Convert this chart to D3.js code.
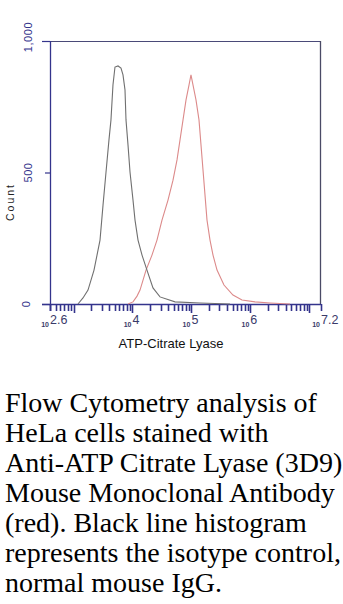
<!DOCTYPE html>
<html>
<head>
<meta charset="utf-8">
<script src="https://cdn.jsdelivr.net/npm/d3@7"></script>
<style>
  body { margin: 0; background: #fff; }
  svg { display: block; }
</style>
</head>
<body>
<svg width="343" height="604"></svg>
<script>
// ---------------------------------------------------------
// Data (log10 fluorescence, counts)
const isoLogFl = [3.075, 3.160, 3.245, 3.347, 3.398, 3.449, 3.500, 3.551, 3.601, 3.635, 3.669,
  3.703, 3.754, 3.805, 3.839, 3.873, 3.890, 3.924, 3.958, 4.009, 4.043, 4.094, 4.162, 4.246,
  4.348, 4.467, 4.722, 5.146, 5.655];
const isoCount = [0, 23, 53, 129, 186, 243, 376, 502, 624, 700, 833,
  901, 905, 897, 871, 814, 700, 605, 502, 395, 319, 243, 186, 129,
  61, 27, 8, 4, 0];

const aclyLogFl = [3.924, 4.009, 4.077, 4.128, 4.230, 4.331, 4.416, 4.501, 4.603, 4.688, 4.756,
  4.807, 4.858, 4.909, 4.960, 4.993, 5.027, 5.078, 5.129, 5.197, 5.265, 5.316, 5.367, 5.435,
  5.553, 5.706, 5.859, 6.080, 6.334, 6.674];
const aclyCount = [0, 8, 30, 53, 129, 186, 243, 319, 395, 471, 548,
  624, 700, 776, 833, 871, 833, 776, 700, 510, 319, 243, 186, 129,
  72, 34, 15, 8, 4, 0];

const xLabelExps = ['2.6', '4', '5', '6', '7.2'];
const yTicks = [0, 500, 1000];
const yTickLabels = ['0', '500', '1,000'];
const captionLines = [
  'Flow Cytometry analysis of',
  'HeLa cells stained with',
  'Anti-ATP Citrate Lyase (3D9)',
  'Mouse Monoclonal Antibody',
  '(red). Black line histogram',
  'represents the isotype control,',
  'normal mouse IgG.'
];

// ---------------------------------------------------------
// Layout
const plot = { left: 50, right: 321, top: 41, bottom: 304 };
const axisBlue = '#34348c';
const sans = "'Liberation Sans', Arial, sans-serif";

const svg = d3.select('svg');

const x = d3.scaleLog()
  .domain([Math.pow(10, 2.6), Math.pow(10, 7.2)])
  .range([plot.left, plot.right]);
const y = d3.scaleLinear()
  .domain([0, 1000])
  .range([plot.bottom, plot.top]);

// ---------------------------------------------------------
// Frame
svg.append('line')
  .attr('x1', plot.left).attr('x2', plot.right)
  .attr('y1', plot.top + 0.5).attr('y2', plot.top + 0.5)
  .attr('stroke', '#4a4a78').attr('stroke-width', 1.2);
svg.append('line')
  .attr('x1', plot.right - 0.5).attr('x2', plot.right - 0.5)
  .attr('y1', plot.top).attr('y2', plot.bottom)
  .attr('stroke', '#4a4a66').attr('stroke-width', 1.3);
svg.append('line')
  .attr('x1', plot.left + 0.5).attr('x2', plot.left + 0.5)
  .attr('y1', plot.top).attr('y2', plot.bottom)
  .attr('stroke', axisBlue).attr('stroke-width', 1.3);

// ---------------------------------------------------------
// Y axis
const yAxis = svg.append('g').attr('id', 'y-axis');
yAxis.selectAll('line.ytick')
  .data(yTicks)
  .enter()
  .append('line')
  .attr('class', 'ytick')
  .attr('x1', (d) => (d === 500 ? 45 : 42))
  .attr('x2', plot.left)
  .attr('y1', (d) => y(d) + 0.5)
  .attr('y2', (d) => y(d) + 0.5)
  .attr('stroke', axisBlue)
  .attr('stroke-width', 1.2);
yAxis.selectAll('text')
  .data(yTicks)
  .enter()
  .append('text')
  .attr('transform', (d) => `translate(${d === 0 ? 30 : 32},${d === 1000 ? y(d) - 4 : y(d)}) rotate(-90)`)
  .attr('text-anchor', 'middle')
  .attr('font-family', sans)
  .attr('font-size', 11)
  .attr('letter-spacing', 0.6)
  .attr('fill', axisBlue)
  .text((d, i) => yTickLabels[i]);

svg.append('text')
  .attr('transform', 'translate(14,202) rotate(-90)')
  .attr('text-anchor', 'middle')
  .attr('font-family', sans)
  .attr('font-size', 10.5)
  .attr('letter-spacing', 2)
  .attr('fill', '#222')
  .text('Count');

// ---------------------------------------------------------
// X axis
svg.append('line')
  .attr('x1', 42).attr('x2', plot.right)
  .attr('y1', plot.bottom + 0.5).attr('y2', plot.bottom + 0.5)
  .attr('stroke', axisBlue).attr('stroke-width', 1.5);

const xTicks = x.ticks().filter((d) => d >= x.domain()[0] && d <= x.domain()[1]);
xTicks.push(x.domain()[0], x.domain()[1]);
svg.append('g')
  .attr('id', 'x-ticks')
  .selectAll('line')
  .data(xTicks)
  .enter()
  .append('line')
  .attr('x1', (d) => Math.round(x(d)) + 0.5)
  .attr('x2', (d) => Math.round(x(d)) + 0.5)
  .attr('y1', plot.bottom)
  .attr('y2', (d) => plot.bottom + (Math.abs(Math.log10(d) % 1) < 1e-6 ? 9 : 7))
  .attr('stroke', axisBlue)
  .attr('stroke-width', 1.6);

const xLabels = svg.append('g').attr('id', 'x-labels');
xLabelExps.forEach((e) => {
  const px = x(Math.pow(10, +e));
  xLabels.append('text')
    .attr('x', px - 1)
    .attr('y', 327)
    .attr('text-anchor', 'end')
    .attr('font-family', sans)
    .attr('font-size', 7)
    .attr('font-weight', 'bold')
    .attr('fill', '#3a3a6a')
    .text('10');
  xLabels.append('text')
    .attr('x', px)
    .attr('y', 324)
    .attr('font-family', sans)
    .attr('font-size', 12.5)
    .attr('fill', '#3a3a6a')
    .text(e);
});

svg.append('text')
  .attr('x', 171)
  .attr('y', 348)
  .attr('text-anchor', 'middle')
  .attr('font-family', sans)
  .attr('font-size', 13)
  .attr('fill', '#111')
  .text('ATP-Citrate Lyase');

// ---------------------------------------------------------
// Histograms
const line = d3.line()
  .x((d) => x(Math.pow(10, d[0])))
  .y((d) => y(d[1]));

svg.append('path')
  .datum(aclyLogFl.map((v, i) => [v, aclyCount[i]]))
  .attr('d', line)
  .attr('fill', 'none')
  .attr('stroke', '#dc8a8a')
  .attr('stroke-width', 1.1);

svg.append('path')
  .datum(isoLogFl.map((v, i) => [v, isoCount[i]]))
  .attr('d', line)
  .attr('fill', 'none')
  .attr('stroke', '#707070')
  .attr('stroke-width', 1.1);

// ---------------------------------------------------------
// Caption
svg.append('text')
  .attr('font-family', "'Liberation Serif', 'Times New Roman', serif")
  .attr('font-size', 28)
  .attr('fill', '#000')
  .selectAll('tspan')
  .data(captionLines)
  .enter()
  .append('tspan')
  .attr('x', 5)
  .attr('y', (d, i) => 412 + i * 30)
  .text((d) => d);
</script>
</body>
</html>
